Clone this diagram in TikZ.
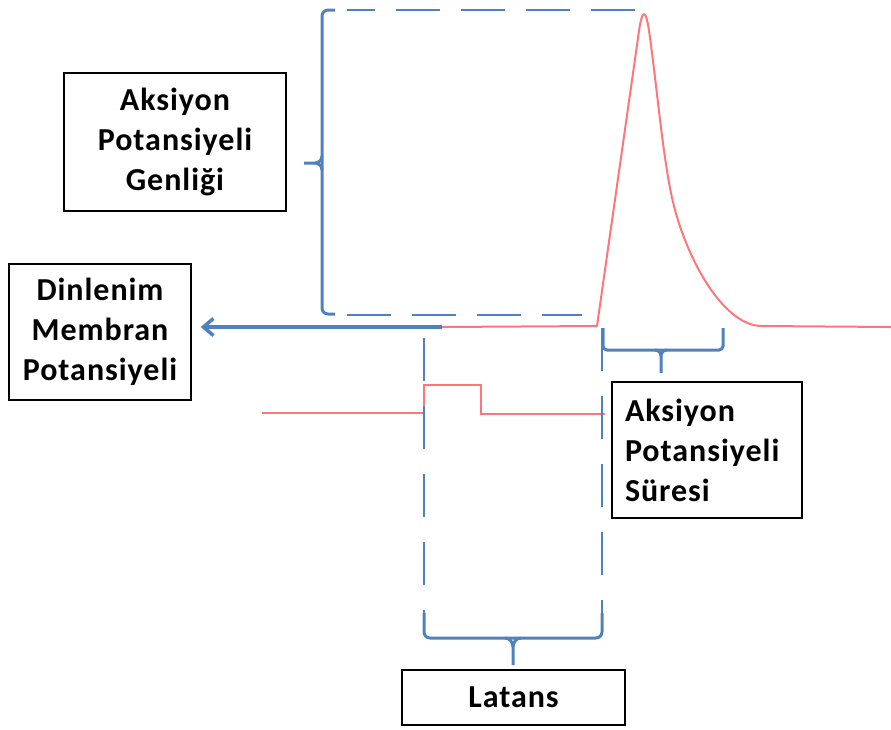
\documentclass[tikz,border=0pt]{standalone}
\usepackage{fontspec}
\setmainfont{Carlito}
\usetikzlibrary{arrows.meta}
\definecolor{ablue}{RGB}{79,129,189}
\definecolor{ared}{RGB}{255,118,122}
\begin{document}
\begin{tikzpicture}[x=1pt,y=-1pt,
  box/.style={draw=black, line width=1.4pt, fill=white, font=\fontsize{32}{40}\selectfont\bfseries\addfontfeatures{LetterSpace=3}},
  bracestyle/.style={draw=ablue, line width=3pt, rounded corners=6pt},
  hdash/.style={draw=ablue, line width=2pt, dash pattern=on 44pt off 21pt},
  vdash/.style={draw=ablue, line width=1.6pt, dash pattern=on 43pt off 25pt},
  rline/.style={draw=ared, line width=2pt},
  restarrow/.style={draw=ablue, line width=3.5pt, -{Straight Barb[length=10pt,width=17pt]}}]
\useasboundingbox (0,0) rectangle (891,729);

% boxes
\node[box, minimum width=222pt, minimum height=138pt, align=center] (gen) at (175,142)
  {Aksiyon\\Potansiyeli\\Genliği};
\node[box, minimum width=182pt, minimum height=136pt, align=center] (din) at (100,332)
  {Dinlenim\\Membran\\Potansiyeli};
\node[box, minimum width=190pt, minimum height=136pt, text width=164pt, inner xsep=13pt, align=left] (sur) at (707,450)
  {Aksiyon\\Potansiyeli\\Süresi};
\node[box, minimum width=223pt, minimum height=55pt] (lat) at (513.5,697.5) {Latans};

% key points
\coordinate (bl) at (442,327);
\coordinate (rise) at (597,326);

% amplitude dashed lines
\draw[hdash] (635,10) -- (347,10);
\draw[hdash] (347,315) -- (582,315);

% amplitude brace
\draw[bracestyle] (335,10) -- (322,10) -- (322,314) -- (335,314);
\draw[draw=ablue, line width=3pt] (304,163) -- (315,163) to[out=0,in=-90] (322,156);
\draw[draw=ablue, line width=3pt] (315,163) to[out=0,in=90] (322,170);

% resting potential arrow
\draw[restarrow, shorten >=9pt] (bl) -- (bl -| din.east);

% action potential trace
\draw[rline, line join=round] (bl) -- (rise) -- (638,38)
  .. controls (642,6) and (646,6) .. (650,38)
  .. controls (658,96) and (664,170) .. (675,210)
  .. controls (690,265) and (725,326) .. (762,326)
  -- (891,327);

% stimulus pulse
\draw[rline] (262,413) -- (424,413) -- (424,385) -- (481,385) -- (481,414) -- (605,414);

% vertical dashed latency lines
\draw[vdash] (424,338) -- (424,613);
\draw[vdash] (602,328) -- (602,613);

% latency brace
\draw[bracestyle] (424,613) -- (424,638) -- (602,638) -- (602,613);
\draw[draw=ablue, line width=3pt] (505,638) to[out=0,in=90] (513,647) -- (513,665);
\draw[draw=ablue, line width=3pt] (521,638) to[out=180,in=90] (513,647);

% duration brace
\draw[bracestyle, rounded corners=4pt] (603,328) -- (603,350) -- (723,350) -- (723,328);
\draw[draw=ablue, line width=3pt] (655,350) to[out=0,in=90] (661,356) -- (661,373);
\draw[draw=ablue, line width=3pt] (667,350) to[out=180,in=90] (661,356);
\end{tikzpicture}
\end{document}
